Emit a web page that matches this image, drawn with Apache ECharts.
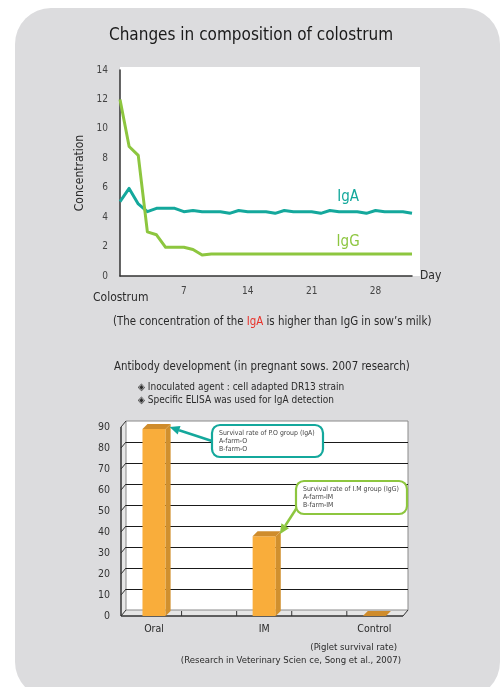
<!DOCTYPE html>
<html><head><meta charset="utf-8">
<script src="https://cdn.jsdelivr.net/npm/echarts@6/dist/echarts.min.js"></script>
<style>html,body{margin:0;padding:0;background:#fff}#c{width:502px;height:687px}</style>
</head><body><div id="c"></div>
<script>
// ---------- data ----------
const days = [0,1,2,3,4,5,6,7,8,9,10,11,12,13,14,15,16,17,18,19,20,21,22,23,24,25,26,27,28,29,30,31,32];
const igA = [5.05,5.95,4.9,4.37,4.6,4.6,4.6,4.37,4.45,4.37,4.37,4.37,4.26,4.45,4.37,4.37,4.37,4.26,4.45,4.37,4.37,4.37,4.26,4.45,4.37,4.37,4.37,4.26,4.45,4.37,4.37,4.37,4.26];
const igG = [12.0,8.8,8.2,3.0,2.8,1.95,1.95,1.95,1.8,1.43,1.5,1.5,1.5,1.5,1.5,1.5,1.5,1.5,1.5,1.5,1.5,1.5,1.5,1.5,1.5,1.5,1.5,1.5,1.5,1.5,1.5,1.5,1.5];
const dayTicks = [7,14,21,28];
const concTicks = [0,2,4,6,8,10,12,14];

const groups = ['Oral','IM','Control'];
const survival = [89, 38, 0];
const survTicks = [0,10,20,30,40,50,60,70,80,90];
const floorTicks = [0.25,0.75,1.25,1.75];
const callTexts = [
  ['Survival rate of P.O group (IgA)','A-farm-O','B-farm-O'],
  ['Survival rate of I.M group (IgG)','A-farm-IM','B-farm-IM']
];

// ---------- style ----------
const FONT = "'DejaVu Sans Condensed','Liberation Sans Narrow','Noto Sans',sans-serif";
const C_IGA = '#14a89c', C_IGG = '#8dc63f', TXT = '#2a2a2a';
const X_MIN = -0.3, X_MAX = 2.26, BAR_W = 0.21;

const chart = echarts.init(document.getElementById('c'), null, {renderer:'canvas'});

function frameItem(params, api){
  const DX = 5, DY = -6;
  const fl = api.coord([X_MIN,0]), fr = api.coord([X_MAX,0]), tl = api.coord([X_MIN,survTicks[survTicks.length-1]]);
  const ch = [];
  ch.push({type:'polygon', shape:{points:[fl, tl, [tl[0]+DX,tl[1]+DY], [fl[0]+DX,fl[1]+DY]]}, style:{fill:'#e6e6e6'}});
  ch.push({type:'polygon', shape:{points:[fl, fr, [fr[0]+DX,fr[1]+DY], [fl[0]+DX,fl[1]+DY]]}, style:{fill:'#e6e6e6'}});
  ch.push({type:'rect', shape:{x:tl[0]+DX, y:tl[1]+DY, width:fr[0]-fl[0], height:fl[1]-tl[1]}, style:{fill:'#fff', stroke:'#8a8a8a', lineWidth:1}});
  survTicks.forEach(v => {
    const p = api.coord([X_MIN, v]);
    const yb = Math.round(p[1]+DY) + 0.5;
    if (v > 0 && v < 90) ch.push({type:'line', shape:{x1:p[0]+DX, y1:yb, x2:fr[0]+DX, y2:yb}, style:{stroke:'#1a1a1a', lineWidth:1}});
    ch.push({type:'line', shape:{x1:p[0], y1:p[1], x2:p[0]+DX, y2:p[1]+DY}, style:{stroke:'#333', lineWidth:1}});
  });
  ch.push({type:'line', shape:{x1:fl[0], y1:fl[1], x2:fr[0], y2:fr[1]}, style:{stroke:'#333', lineWidth:1.5}});
  ch.push({type:'line', shape:{x1:fr[0], y1:fr[1], x2:fr[0]+DX, y2:fr[1]+DY}, style:{stroke:'#333', lineWidth:1}});
  ch.push({type:'line', shape:{x1:fl[0], y1:fl[1], x2:tl[0], y2:tl[1]}, style:{stroke:'#333', lineWidth:1.5}});
  floorTicks.forEach(x => {
    const p = api.coord([x, 0]);
    ch.push({type:'line', shape:{x1:p[0], y1:p[1], x2:p[0], y2:p[1]-5}, style:{stroke:'#333', lineWidth:1}});
  });
  return {type:'group', children:ch};
}

function barItem(params, api){
  const x = api.value(0), v = api.value(1), D = 5;
  const tl = api.coord([x-BAR_W/2, v]), br = api.coord([x+BAR_W/2, 0]);
  const ch = [];
  if (br[1]-tl[1] > 0.5) ch.push({type:'rect', shape:{x:tl[0], y:tl[1], width:br[0]-tl[0], height:br[1]-tl[1]}, style:{fill:'#f9ad3b'}});
  ch.push({type:'polygon', shape:{points:[[br[0],tl[1]],[br[0]+D,tl[1]-D],[br[0]+D,br[1]-D],[br[0],br[1]]]}, style:{fill:'#d1902e'}});
  ch.push({type:'polygon', shape:{points:[[tl[0],tl[1]],[tl[0]+D,tl[1]-D],[br[0]+D,tl[1]-D],[br[0],tl[1]]]}, style:{fill:'#cf8c2c'}});
  ch.push({type:'text', style:{text:groups[params.dataIndex], x:(tl[0]+br[0])/2, y:br[1]+13, align:'center', verticalAlign:'middle', fontSize:10.5, fill:TXT, fontFamily:FONT}});
  return {type:'group', children:ch};
}

const boxes = [
  {x:212, y:425, w:111, h:32, from:[212,441], color:C_IGA},
  {x:296, y:481, w:111, h:33, from:[298,506], color:C_IGG}
];
function calloutItem(params, api){
  const b = boxes[params.dataIndex];
  const t = api.coord([api.value(0)+BAR_W/2, api.value(1)]);
  const tip = [t[0]+4, t[1]-2];
  const dx = tip[0]-b.from[0], dy = tip[1]-b.from[1], L = Math.hypot(dx,dy);
  const ux = dx/L, uy = dy/L, hl = 10, hw = 4.5;
  const base = [tip[0]-ux*hl, tip[1]-uy*hl];
  const ch = [];
  ch.push({type:'line', shape:{x1:b.from[0], y1:b.from[1], x2:base[0], y2:base[1]}, style:{stroke:b.color, lineWidth:2.5}});
  ch.push({type:'polygon', shape:{points:[tip,[base[0]-uy*hw, base[1]+ux*hw],[base[0]+uy*hw, base[1]-ux*hw]]}, style:{fill:b.color}});
  ch.push({type:'rect', shape:{x:b.x, y:b.y, width:b.w, height:b.h, r:8}, style:{fill:'#fff', stroke:b.color, lineWidth:2.2}});
  callTexts[params.dataIndex].forEach((s,i) => {
    ch.push({type:'text', style:{text:s, x:b.x+7, y:b.y+8+i*8, verticalAlign:'middle', fontSize:6.9, fill:'#444', fontFamily:FONT}});
  });
  return {type:'group', children:ch};
}

function pt(d, arr, idx, col, dist){
  return arr.map((v,i) => i===idx
    ? {value:[d[i],v], symbolSize:0, label:{show:true, position:'top', distance:dist, formatter:col.name, color:col.c, fontSize:15, fontFamily:FONT}}
    : {value:[d[i],v], symbolSize:0});
}

const option = {
  animation:false,
  textStyle:{fontFamily:FONT},
  graphic:[
    {type:'rect', z:-10, shape:{x:15, y:8, width:485, height:690, r:36}, style:{fill:'#dcdcde'}},
    {type:'rect', z:-5, shape:{x:120, y:67, width:300, height:209}, style:{fill:'#fff'}},
    {type:'text', left:'center', top:27, style:{text:'Changes in composition of colostrum', fontSize:17, fill:'#1a1a1a', fontFamily:FONT}},
    {type:'text', left:93, top:292, style:{text:'Colostrum', fontSize:12, fill:TXT, fontFamily:FONT}},
    {type:'text', left:113, top:317, style:{text:'(The concentration of the {r|IgA} is higher than IgG in sow\u2019s milk)', fontSize:11.4, fill:TXT, fontFamily:FONT, rich:{r:{fill:'#e8312a', fontSize:11.4, fontFamily:FONT}}}},
    {type:'text', left:114, top:362, style:{text:'Antibody development (in pregnant sows. 2007 research)', fontSize:11.4, fill:TXT, fontFamily:FONT}},
    {type:'text', left:138, top:382, style:{text:'\u25C8 Inoculated agent : cell adapted DR13 strain', fontSize:10, fill:TXT, fontFamily:FONT}},
    {type:'text', left:138, top:395, style:{text:'\u25C8 Specific ELISA was used for IgA detection', fontSize:10, fill:TXT, fontFamily:FONT}},
    {type:'text', right:105, top:643, style:{text:'(Piglet survival rate)', fontSize:9.5, fill:TXT, fontFamily:FONT}},
    {type:'text', right:101, top:656, style:{text:'(Research in Veterinary Scien ce, Song et al., 2007)', fontSize:9.5, fill:TXT, fontFamily:FONT}}
  ],
  grid:[
    {left:120, top:70, width:292, height:206},
    {left:121, top:427, width:282, height:189}
  ],
  xAxis:[
    {gridIndex:0, type:'value', min:0, max:32, interval:7,
     axisLine:{show:true, lineStyle:{color:'#333', width:1.5}}, axisTick:{show:false}, splitLine:{show:false},
     axisLabel:{color:'#444', fontSize:10, margin:10, showMaxLabel:false, formatter:v => dayTicks.includes(v) ? String(v) : ''},
     name:'Day', nameLocation:'end', nameGap:8, nameTextStyle:{color:TXT, fontSize:12, verticalAlign:'middle'}},
    {gridIndex:1, type:'value', min:X_MIN, max:X_MAX, show:false}
  ],
  yAxis:[
    {gridIndex:0, type:'value', min:concTicks[0], max:concTicks[concTicks.length-1], interval:2,
     axisLine:{show:true, lineStyle:{color:'#333', width:1.5}}, axisTick:{show:false}, splitLine:{show:false},
     axisLabel:{color:'#444', fontSize:10, margin:12},
     name:'Concentration', nameLocation:'middle', nameGap:27, nameRotate:90, nameTextStyle:{color:TXT, fontSize:12}},
    {gridIndex:1, type:'value', min:survTicks[0], max:survTicks[survTicks.length-1], interval:10,
     axisLine:{show:false}, axisTick:{show:false}, splitLine:{show:false},
     axisLabel:{color:'#333', fontSize:10.5, margin:11}}
  ],
  series:[
    {type:'line', name:'IgA', xAxisIndex:0, yAxisIndex:0, data:pt(days, igA, 25, {name:'IgA', c:C_IGA}, 7), showSymbol:true, symbol:'circle', symbolSize:0,
     lineStyle:{color:C_IGA, width:3, join:'round'}, itemStyle:{color:C_IGA}, z:3},
    {type:'line', name:'IgG', xAxisIndex:0, yAxisIndex:0, data:pt(days, igG, 25, {name:'IgG', c:C_IGG}, 4), showSymbol:true, symbol:'circle', symbolSize:0,
     lineStyle:{color:C_IGG, width:3, join:'round'}, itemStyle:{color:C_IGG}, z:3},
    {type:'custom', xAxisIndex:1, yAxisIndex:1, data:[[0,0]], renderItem:frameItem, clip:false, silent:true, z:1},
    {type:'custom', xAxisIndex:1, yAxisIndex:1, data:survival.map((v,i)=>[i,v]), renderItem:barItem, clip:false, encode:{x:0,y:1}, z:2},
    {type:'custom', xAxisIndex:1, yAxisIndex:1, data:[[0,survival[0]],[1,survival[1]]], renderItem:calloutItem, clip:false, encode:{x:0,y:1}, z:4}
  ]
};
chart.setOption(option);
</script></body></html>
